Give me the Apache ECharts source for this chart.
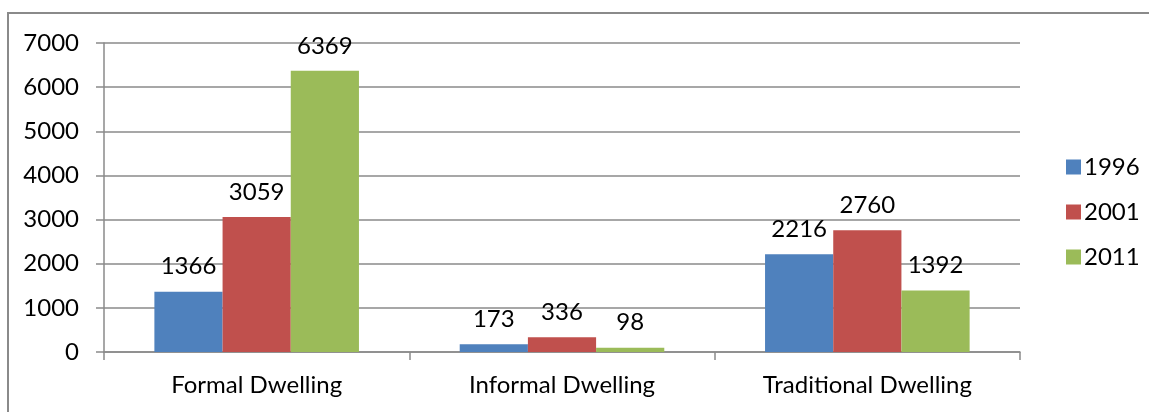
<!DOCTYPE html>
<html>
<head>
<meta charset="UTF-8">
<script src="https://cdn.jsdelivr.net/npm/echarts@6/dist/echarts.min.js"></script>
<style>
  html, body { margin: 0; padding: 0; background: #fff; }
  #chart { width: 1149px; height: 412px; }
</style>
</head>
<body>
<div id="chart"></div>
<script>
// dwelling types and counts per census year
const categories = ['Formal Dwelling', 'Informal Dwelling', 'Traditional Dwelling'];
const years = ['1996', '2001', '2011'];
const values1996 = [1366, 173, 2216];
const values2001 = [3059, 336, 2760];
const values2011 = [6369, 98, 1392];
const colors = ['#4F81BD', '#C0504D', '#9BBB59'];

const font = 'Lato, "Open Sans", sans-serif';
const fs = 24;
const seriesData = [values1996, values2001, values2011];

const chart = echarts.init(document.getElementById('chart'));

chart.setOption({
  animation: false,
  textStyle: { fontFamily: font },
  graphic: [{
    type: 'rect',
    shape: { x: 8, y: 13, width: 1200, height: 500 },
    style: { fill: 'none', stroke: '#8a8a8a', lineWidth: 2 },
    silent: true
  }],
  grid: { left: 104, right: 129, top: 43, bottom: 60 },
  legend: {
    orient: 'vertical',
    left: 1061,
    top: 150,
    itemWidth: 15,
    itemHeight: 15,
    itemGap: 21,
    icon: 'rect',
    textStyle: { fontFamily: font, fontSize: fs, color: '#000', padding: [0, 0, 0, -2] },
    data: years
  },
  xAxis: {
    type: 'category',
    data: categories,
    axisLine: { lineStyle: { color: '#8a8a8a', width: 1.5 } },
    axisTick: { show: true, length: 8, interval: 0, alignWithLabel: false, lineStyle: { color: '#8a8a8a', width: 1.5 } },
    axisLabel: { color: '#000', fontSize: fs, fontFamily: font, margin: 21 }
  },
  yAxis: {
    type: 'value',
    min: 0,
    max: 7000,
    interval: 1000,
    axisLine: { show: true, lineStyle: { color: '#8a8a8a', width: 1.5 } },
    axisTick: { show: true, length: 8, lineStyle: { color: '#8a8a8a', width: 1.5 } },
    splitLine: { lineStyle: { color: '#8a8a8a', width: 1.5 } },
    axisLabel: { color: '#000', fontSize: fs, fontFamily: font, margin: 25, formatter: v => String(v) }
  },
  series: years.map((y, i) => ({
    name: y,
    type: 'bar',
    data: seriesData[i],
    barGap: '0%',
    barCategoryGap: '33%',
    itemStyle: { color: colors[i] },
    label: {
      show: true,
      position: 'top',
      distance: 13,
      color: '#000',
      fontSize: fs,
      fontFamily: font
    }
  }))
});
</script>
</body>
</html>
